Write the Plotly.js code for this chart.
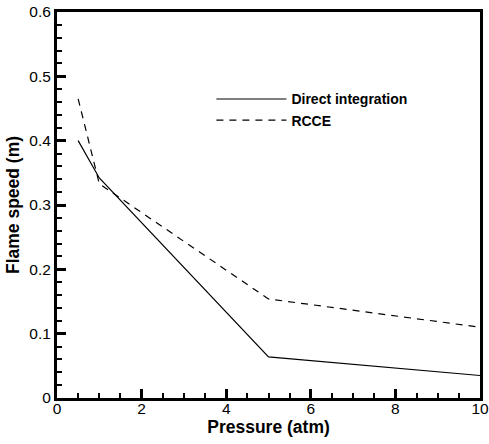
<!DOCTYPE html>
<html>
<head>
<meta charset="utf-8">
<script src="https://cdn.plot.ly/plotly-3.0.1.min.js"></script>
<style>
html,body{margin:0;padding:0;background:#fff;}
#chart{width:489px;height:444px;}
</style>
</head>
<body>
<div id="chart"></div>
<script>
var pressure = [0.5, 1, 5, 10];
var directIntegration = [0.400, 0.342, 0.064, 0.035];
var rcce = [0.465, 0.333, 0.154, 0.110];
var seriesNames = ["Direct integration", "RCCE"];

var font = "Liberation Sans, Arial, Helvetica, sans-serif";

var traces = [
  {x: pressure, y: directIntegration, name: seriesNames[0], mode: "lines",
   line: {color: "#000", width: 1.2, dash: "solid"}},
  {x: pressure, y: rcce, name: seriesNames[1], mode: "lines",
   line: {color: "#000", width: 1.2, dash: "7px,6px"}}
];

var xMinor = {dtick: 0.5, ticks: "inside", ticklen: 5, tickwidth: 2, tickcolor: "#000"};
var yMinor = {dtick: 0.02, ticks: "inside", ticklen: 5, tickwidth: 2, tickcolor: "#000"};

var layout = {
  width: 489, height: 444,
  margin: {l: 57, r: 9, t: 12, b: 46},
  paper_bgcolor: "#fff", plot_bgcolor: "#fff",
  showlegend: true,
  legend: {x: 0.365, y: 0.815, xanchor: "left", yanchor: "top",
           bgcolor: "rgba(0,0,0,0)", itemwidth: 70, tracegroupgap: 0,
           font: {family: font, size: 14, color: "#000", weight: "bold"}},
  xaxis: {
    showline: true, linecolor: "#000", linewidth: 3, mirror: true,
    ticks: "inside", ticklen: 9, tickwidth: 3, tickcolor: "#000",
    minor: xMinor,
    showgrid: false, zeroline: false,
    tickfont: {family: font, size: 15.5, color: "#000"},
    ticklabelstandoff: -6,
    range: [0, 10], dtick: 2, tick0: 0,
    title: {text: "<b>Pressure (atm)</b>", standoff: 4, font: {family: font, size: 17.5, color: "#000"}}
  },
  yaxis: {
    showline: true, linecolor: "#000", linewidth: 3, mirror: true,
    ticks: "inside", ticklen: 9, tickwidth: 3, tickcolor: "#000",
    minor: yMinor,
    showgrid: false, zeroline: false,
    tickfont: {family: font, size: 15.5, color: "#000"},
    range: [0, 0.6], dtick: 0.1, tick0: 0,
    title: {text: "<b>Flame speed (m)</b>", standoff: 6, font: {family: font, size: 17.5, color: "#000"}}
  },
  xaxis2: {
    overlaying: "x", side: "top", anchor: "y",
    range: [0, 10], dtick: 2, tick0: 0,
    ticks: "inside", ticklen: 9, tickwidth: 3, tickcolor: "#000",
    minor: xMinor,
    showticklabels: false, showline: false, showgrid: false, zeroline: false
  },
  yaxis2: {
    overlaying: "y", side: "right", anchor: "x",
    range: [0, 0.6], dtick: 0.1, tick0: 0,
    ticks: "inside", ticklen: 9, tickwidth: 3, tickcolor: "#000",
    minor: yMinor,
    showticklabels: false, showline: false, showgrid: false, zeroline: false
  }
};

Plotly.newPlot("chart", traces, layout, {displayModeBar: false, staticPlot: true});
</script>
</body>
</html>
